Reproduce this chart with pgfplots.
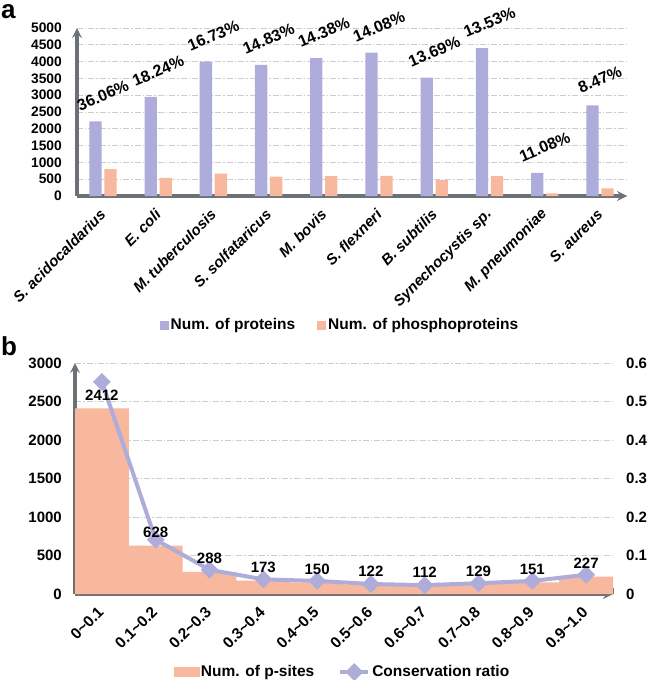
\documentclass[border=0pt]{standalone}
\usepackage{pgfplots}
\pgfplotsset{compat=1.18}
\usepackage{pgfplotstable}
\usepackage{fontspec}
\setmainfont{Liberation Sans}
\usetikzlibrary{arrows.meta}
\definecolor{ppurple}{RGB}{173,172,219}
\definecolor{porange}{RGB}{247,184,157}
\definecolor{axgray}{RGB}{108,113,118}
\definecolor{gridgray}{RGB}{205,205,205}
\newcommand{\fs}[1]{\fontsize{#1}{#1}\selectfont}

\pgfplotstableread{
x prot phos pct
0 2220 800 36.06
1 2950 538 18.24
2 4000 669 16.73
3 3900 578 14.83
4 4100 590 14.38
5 4270 601 14.08
6 3520 482 13.69
7 4400 595 13.53
8 690 76 11.08
9 2700 229 8.47
}\tableA

\pgfplotstableread{
x n r
0 2412 0.551
1 628 0.141
2 288 0.063
3 173 0.038
4 150 0.034
5 122 0.026
6 112 0.023
7 129 0.028
8 151 0.034
9 227 0.050
}\tableB

\pgfplotsset{
  /pgf/number format/1000 sep={},
  /pgf/number format/assume math mode=true,
  myaxis/.style={
    scale only axis, anchor=south west, clip=false,
    axis line style={line width=3.3pt, draw=axgray},
    x axis line style={-{Triangle[length=15pt,width=14pt]}},
    y axis line style={-{Triangle[length=15pt,width=14pt]}},
    major tick length=0pt,
    ymajorgrids,
    major grid style={dash pattern=on 6pt off 2pt on 1.5pt off 2pt, draw=gridgray, line width=0.8pt},
    legend cell align=left,
  },
  bbox/.style={scale only axis, anchor=south west, clip=false,
    at={(75pt,-594pt)}, width=538pt, height=231pt, xmin=-0.5, xmax=9.5},
}

\begin{document}
\begin{tikzpicture}
\path[use as bounding box] (0,0) rectangle (648pt,-680pt);
\node[anchor=base west, inner sep=0pt, font=\bfseries\fs{26}] at (1pt,-19pt) {a};
\node[anchor=base west, inner sep=0pt, font=\bfseries\fs{26}] at (1pt,-355pt) {b};

% ---------- panel a ----------
\begin{axis}[myaxis,
  at={(77pt,-196pt)}, width=550pt, height=168pt,
  xmin=-0.47, xmax=9.49, ymin=0, ymax=5000,
  axis x line=bottom, axis y line=left,
  xtick={0,...,9},
  xticklabels={S. acidocaldarius, E. coli, M. tuberculosis, S. solfataricus, M. bovis, S. flexneri, B. subtilis, Synechocystis sp., M. pneumoniae, S. aureus},
  ytick={0,500,...,5000},
  xticklabel style={xshift=0pt, yshift=-16pt, rotate=45, anchor=east, inner sep=0pt, font=\bfseries\itshape\fs{15}},
  yticklabel style={xshift=-15pt, anchor=east, inner sep=0pt, font=\bfseries\fs{13.8}},
  legend style={at={(0.478,-0.768)}, anchor=center, draw=none, fill=none, legend columns=2,
    font=\bfseries\fs{15.5}, inner sep=0pt,
    /tikz/every even column/.append style={column sep=20pt}},
]
\addplot[ybar, bar width=12.3pt, bar shift=-7.5pt, fill=ppurple, draw=none,
  legend image code/.code={\fill[ppurple] (0pt,-4.5pt) rectangle (9pt,4.5pt);}]
  table[x=x, y=prot] {\tableA};
\addlegendentry{Num. of proteins}
\addplot[ybar, bar width=12.3pt, bar shift=7.5pt, fill=porange, draw=none,
  legend image code/.code={\fill[porange] (0pt,-4.5pt) rectangle (9pt,4.5pt);}]
  table[x=x, y=phos] {\tableA};
\addlegendentry{Num. of phosphoproteins}
\addplot[draw=none, mark=none, forget plot, point meta=explicit,
  nodes near coords={\pgfmathprintnumber[fixed,fixed zerofill,precision=2]{\pgfplotspointmeta}\%},
  nodes near coords style={yshift=26pt, rotate=23, anchor=center, inner sep=0pt, font=\bfseries\fs{16}, text=black}]
  table[x=x, y=prot, meta=pct] {\tableA};
\end{axis}

% ---------- panel b (left) ----------
\begin{axis}[myaxis, bbox,
  ymin=0, ymax=3000,
  axis x line=bottom, axis y line=left,
  xtick={0,...,9},
  xticklabels={0\textasciitilde0.1, 0.1\textasciitilde0.2, 0.2\textasciitilde0.3, 0.3\textasciitilde0.4, 0.4\textasciitilde0.5, 0.5\textasciitilde0.6, 0.6\textasciitilde0.7, 0.7\textasciitilde0.8, 0.8\textasciitilde0.9, 0.9\textasciitilde1.0},
  minor xtick={0.5,1.5,...,9.5},
  minor tick length=6pt, xtick align=inside,
  every minor tick/.append style={line width=2.7pt, draw=axgray},
  ytick={0,500,...,3000},
  xticklabel style={xshift=-1pt, yshift=-15pt, rotate=45, anchor=east, inner sep=0pt, font=\bfseries\fs{15.5}},
  yticklabel style={xshift=-13pt, anchor=east, inner sep=0pt, font=\bfseries\fs{15}},
]
\addplot[ybar, bar width=1, bar shift=0pt, fill=porange, draw=none]
  table[x=x, y=n] {\tableB};
\end{axis}

% ---------- panel b (right) ----------
\begin{axis}[bbox, ymin=0, ymax=0.6,
  axis y line*=right, axis x line=none,
  y axis line style={draw=none},
  major tick length=0pt,
  ytick={0,0.1,0.2,0.3,0.4,0.5,0.6},
  yticklabel style={/pgf/number format/fixed, /pgf/number format/precision=1, xshift=13pt, anchor=west, inner sep=0pt, font=\bfseries\fs{15}},
  legend cell align=left,
  legend style={at={(0.497,-0.338)}, anchor=center, draw=none, fill=none, legend columns=2,
    font=\bfseries\fs{15.5}, inner sep=0pt,
    /tikz/every even column/.append style={column sep=22pt}},
]
\addlegendimage{legend image code/.code={\fill[porange] (0pt,-4.5pt) rectangle (25pt,4.5pt);}}
\addlegendentry{Num. of p-sites}
\addplot[ppurple, line width=4pt, mark=square*, mark size=4.3pt, mark options={rotate=45, solid},
  legend image code/.code={\draw[ppurple, line width=4pt, mark=square*, mark size=4.3pt, mark options={rotate=45, solid}, mark repeat=2, mark phase=2] plot coordinates {(0pt,0pt) (14pt,0pt) (28pt,0pt)};}]
  table[x=x, y=r] {\tableB};
\addlegendentry{Conservation ratio}
\end{axis}

% ---------- panel b (bar value labels, on top) ----------
\begin{axis}[bbox, ymin=0, ymax=3000, hide axis]
\addplot[draw=none, mark=none,
  nodes near coords,
  nodes near coords style={yshift=7.5pt, anchor=south, inner sep=0pt, font=\bfseries\fs{15}, text=black}]
  table[x=x, y=n] {\tableB};
\end{axis}
\end{tikzpicture}
\end{document}
